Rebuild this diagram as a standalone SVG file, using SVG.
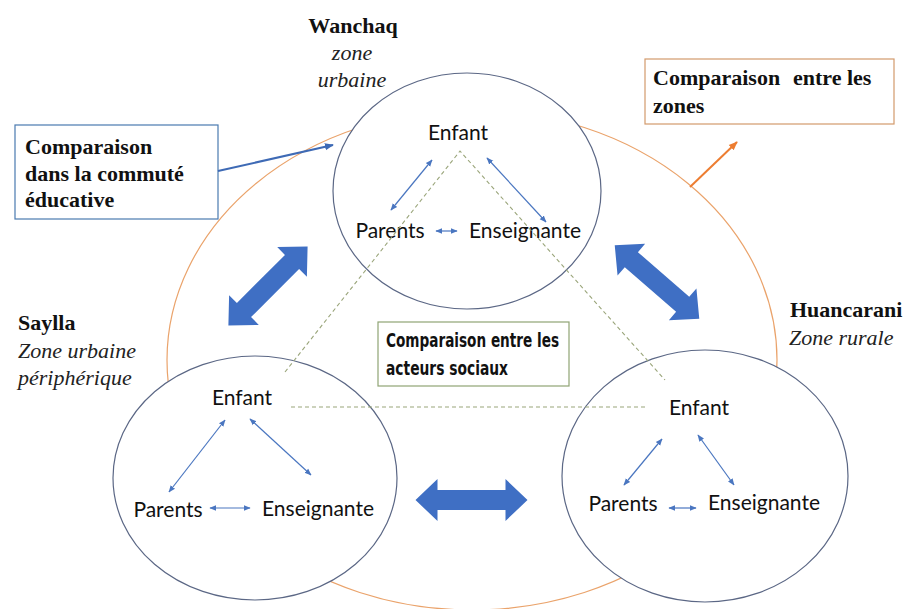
<svg xmlns="http://www.w3.org/2000/svg" width="910" height="609" viewBox="0 0 910 609">
<defs>
<style>
.zone{fill:#fff;stroke:#5b6785;stroke-width:1.2}
.lbl{font-family:Lato,"Liberation Sans",sans-serif;font-size:21px;fill:#111;text-anchor:middle}
.sa{stroke:#4a76c0;stroke-width:1.2;fill:none;marker-start:url(#sa);marker-end:url(#sa)}
.big{fill:#3f6fc4}
.dash{stroke:#9aa57a;stroke-width:1.1;stroke-dasharray:4 3;fill:none}
.tb{font-family:"Liberation Serif",serif;font-weight:bold;font-size:22px;fill:#111}
.ti{font-family:"Liberation Serif",serif;font-style:italic;font-size:22px;fill:#222}
</style>
<marker id="sa" viewBox="0 0 10 10" refX="9" refY="5" markerWidth="7" markerHeight="7" markerUnits="userSpaceOnUse" orient="auto-start-reverse"><path d="M0,1 L10,5 L0,9 z" fill="#4a76c0"/></marker>
<marker id="ba" viewBox="0 0 10 10" refX="9" refY="5" markerWidth="9" markerHeight="9" markerUnits="userSpaceOnUse" orient="auto"><path d="M0,1 L10,5 L0,9 z" fill="#3e6ab5"/></marker>
<marker id="oa" viewBox="0 0 10 10" refX="9" refY="5" markerWidth="9" markerHeight="9" markerUnits="userSpaceOnUse" orient="auto"><path d="M0,1 L10,5 L0,9 z" fill="#ed7d31"/></marker>
<path id="dbl" d="M-56,0 L-34,-21 L-34,-10 L34,-10 L34,-21 L56,0 L34,21 L34,10 L-34,10 L-34,21 Z"/>
</defs>
<rect width="910" height="609" fill="#fff"/>

<g id="outer">
<ellipse cx="472" cy="360" rx="305" ry="250" fill="none" stroke="#eaa36b" stroke-width="1.2"/>
</g>

<g id="wanchaq">
<ellipse class="zone" cx="467" cy="191" rx="134" ry="118"/>
<text class="tb" x="353" y="33" text-anchor="middle">Wanchaq</text>
<text class="ti" x="352" y="60" text-anchor="middle">zone</text>
<text class="ti" x="352" y="87" text-anchor="middle">urbaine</text>
<text class="lbl" x="458" y="140">Enfant</text>
<text class="lbl" x="390" y="238">Parents</text>
<text class="lbl" x="525" y="238">Enseignante</text>
</g>

<g id="saylla">
<ellipse class="zone" cx="255" cy="478" rx="142" ry="122"/>
<text class="tb" x="18" y="330">Saylla</text>
<text class="ti" x="18" y="358">Zone urbaine</text>
<text class="ti" x="18" y="385">périphérique</text>
<text class="lbl" x="242" y="405">Enfant</text>
<text class="lbl" x="168" y="517">Parents</text>
<text class="lbl" x="318" y="516">Enseignante</text>
</g>

<g id="huancarani">
<ellipse class="zone" cx="705" cy="476" rx="143" ry="126"/>
<text class="tb" x="790" y="317">Huancarani</text>
<text class="ti" x="789" y="345">Zone rurale</text>
<text class="lbl" x="699" y="415">Enfant</text>
<text class="lbl" x="623" y="511">Parents</text>
<text class="lbl" x="764" y="510">Enseignante</text>
</g>

<g id="box-communaute">
<rect x="15" y="125" width="203" height="94" fill="#fff" stroke="#4a7ab0" stroke-width="1.2"/>
<text class="tb" x="25" y="154">Comparaison</text>
<text class="tb" x="25" y="181">dans la commuté</text>
<text class="tb" x="25" y="207">éducative</text>
</g>

<g id="box-zones">
<rect x="645" y="59" width="249" height="65" fill="#fff" stroke="#d39a6c" stroke-width="1.2"/>
<text class="tb" x="653" y="85">Comparaison <tspan x="793">entre les</tspan></text>
<text class="tb" x="653" y="113">zones</text>
</g>

<g id="box-acteurs">
<rect x="378" y="322" width="191" height="64" fill="#fff" stroke="#8fa474" stroke-width="1.2"/>
<text x="386" y="347" font-family="'DejaVu Sans Condensed','DejaVu Sans',sans-serif" font-weight="bold" font-size="20" fill="#111" textLength="173" lengthAdjust="spacingAndGlyphs">Comparaison entre les</text>
<text x="386" y="375" font-family="'DejaVu Sans Condensed','DejaVu Sans',sans-serif" font-weight="bold" font-size="20" fill="#111" textLength="122" lengthAdjust="spacingAndGlyphs">acteurs sociaux</text>
</g>

<g id="connectors">
<path class="dash" d="M285,372 L460,151 L665,380"/>
<path class="dash" d="M291,407 L648,407"/>
<line class="sa" x1="432" y1="160" x2="391" y2="210"/>
<line class="sa" x1="487" y1="158" x2="546" y2="222"/>
<line class="sa" x1="436" y1="231" x2="457" y2="231"/>
<line class="sa" x1="225" y1="420" x2="169" y2="492"/>
<line class="sa" x1="250" y1="419" x2="311" y2="475"/>
<line class="sa" x1="210" y1="508" x2="250" y2="508"/>
<line class="sa" x1="662" y1="439" x2="624" y2="485"/>
<line class="sa" x1="698" y1="435" x2="734" y2="485"/>
<line class="sa" x1="669" y1="508" x2="696" y2="508"/>
<use href="#dbl" class="big" transform="translate(268,286) rotate(-45)"/>
<use href="#dbl" class="big" transform="translate(657,282) rotate(41)"/>
<use href="#dbl" class="big" transform="translate(471.5,500)"/>
<line x1="218" y1="171" x2="333" y2="145" stroke="#3e6ab5" stroke-width="2" marker-end="url(#ba)"/>
<line x1="690" y1="187" x2="737" y2="142" stroke="#ed7d31" stroke-width="2" marker-end="url(#oa)"/>
</g>
</svg>
